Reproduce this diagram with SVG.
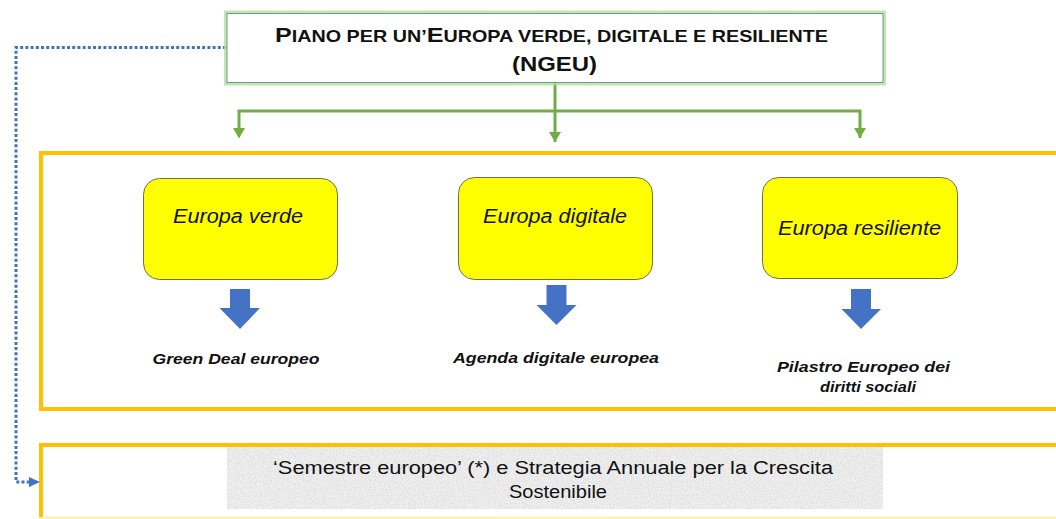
<svg xmlns="http://www.w3.org/2000/svg" width="1056" height="519" viewBox="0 0 1056 519">
  <style>
    .title { font-family: "Liberation Sans", Arial, sans-serif; font-weight: bold; font-size: 21px; fill: #111; }
    .sc { font-size: 16.5px; }
    .ybox { fill: #FFFF00; stroke: #6F6F4A; stroke-width: 1; }
    .ytext { font-family: "Liberation Sans", Arial, sans-serif; font-style: italic; font-size: 20px; fill: #111; }
    .lbl { font-family: "Liberation Sans", Arial, sans-serif; font-style: italic; font-weight: bold; font-size: 15.5px; fill: #111; }
    .frame { fill: none; stroke: #FFC000; stroke-width: 4; }
    .barrow { fill: #4472C4; }
    .green { fill: none; stroke: #70AD47; stroke-width: 3; }
    .dotted { fill: none; stroke: #4472C4; stroke-width: 3; stroke-dasharray: 3 2.2; }
    .semtext { font-family: "Liberation Sans", Arial, sans-serif; font-size: 18px; fill: #111; }
  </style>
  <defs>
    <marker id="gArrow" markerWidth="12" markerHeight="12" refX="10" refY="6" orient="auto" markerUnits="userSpaceOnUse">
      <path d="M0,0 L10,6 L0,12 Z" fill="#70AD47"/>
    </marker>
    <filter id="grain" x="0" y="0" width="100%" height="100%">
      <feTurbulence type="fractalNoise" baseFrequency="0.85" numOctaves="3" seed="4"/>
      <feColorMatrix type="matrix" values="0 0 0 0 0.6  0 0 0 0 0.6  0 0 0 0 0.6  1.4 0 0 0 -0.55"/>
    </filter>
  </defs>
  <rect width="1056" height="519" fill="#FFFFFF"/>

  <!-- Orange frames -->
  <g id="frame-pillars">
    <rect class="frame" x="41" y="153" width="1030" height="256"/>
  </g>
  <g id="frame-semestre">
    <path class="frame" d="M41,521 V445 H1060"/>
    <line x1="39" y1="518" x2="1060" y2="518" stroke="#FFF3A8" stroke-width="2"/>
    <rect x="227" y="447" width="656" height="62" fill="#F0F0F0"/>
    <rect x="227" y="447" width="656" height="62" fill="#FFFFFF" filter="url(#grain)"/>
    <text class="semtext" x="273" y="474" textLength="560" lengthAdjust="spacingAndGlyphs">‘Semestre europeo’ (*) e Strategia Annuale per la Crescita</text>
    <text class="semtext" x="509" y="498" textLength="98" lengthAdjust="spacingAndGlyphs">Sostenibile</text>
  </g>

  <!-- Connectors -->
  <g id="connectors">
    <path class="green" d="M555,82 V142" marker-end="url(#gArrow)"/>
    <path class="green" d="M239,128 V111 H860 V138" marker-end="url(#gArrow)"/>
    <path d="M233,128 L245,128 L239,138.5 Z" fill="#70AD47"/>
    <path class="dotted" d="M226,47.5 H16 V482 H29"/>
    <path d="M29,477 L40,482 L29,487 Z" fill="#4472C4"/>
  </g>

  <!-- Top node -->
  <g id="node-ngeu">
    <rect x="227" y="13.5" width="656" height="69" fill="#FFFFFF" stroke="#B7DDA0" stroke-width="6" stroke-opacity="0.8"/>
    <rect x="227" y="13.5" width="656" height="69" fill="#FFFFFF" stroke="#6E9C8A" stroke-width="1"/>
    <text class="title" x="275" y="41.5" textLength="553" lengthAdjust="spacingAndGlyphs">P<tspan class="sc">IANO PER UN’</tspan>E<tspan class="sc">UROPA VERDE, DIGITALE E RESILIENTE</tspan></text>
    <text class="title" x="512" y="71" textLength="85" lengthAdjust="spacingAndGlyphs">(NGEU)</text>
  </g>

  <!-- Europa verde -->
  <g id="node-verde">
    <rect class="ybox" x="143.5" y="178.5" width="194" height="101" rx="16" ry="16"/>
    <text class="ytext" x="173" y="223" textLength="130" lengthAdjust="spacingAndGlyphs">Europa verde</text>
    <path class="barrow" d="M230,289 H250 V308 H260 L240,329 L219.5,308 H230 Z"/>
    <text class="lbl" x="152.5" y="364" textLength="167" lengthAdjust="spacingAndGlyphs">Green Deal europeo</text>
  </g>

  <!-- Europa digitale -->
  <g id="node-digitale">
    <rect class="ybox" x="458.5" y="177.5" width="194" height="102" rx="16" ry="16"/>
    <text class="ytext" x="483" y="223" textLength="144" lengthAdjust="spacingAndGlyphs">Europa digitale</text>
    <path class="barrow" d="M546.5,285 H566.5 V305 H576.5 L556.5,325 L536.5,305 H546.5 Z"/>
    <text class="lbl" x="453" y="363" textLength="206" lengthAdjust="spacingAndGlyphs">Agenda digitale europea</text>
  </g>

  <!-- Europa resiliente -->
  <g id="node-resiliente">
    <rect class="ybox" x="762.5" y="177.5" width="195" height="101" rx="16" ry="16"/>
    <text class="ytext" x="778" y="235" textLength="163" lengthAdjust="spacingAndGlyphs">Europa resiliente</text>
    <path class="barrow" d="M851,289 H871 V309 H881 L861,329 L841.5,309 H851 Z"/>
    <text class="lbl" x="777" y="371.5" textLength="173" lengthAdjust="spacingAndGlyphs">Pilastro Europeo dei</text>
    <text class="lbl" x="820" y="391.5" textLength="96" lengthAdjust="spacingAndGlyphs">diritti sociali</text>
  </g>
</svg>
